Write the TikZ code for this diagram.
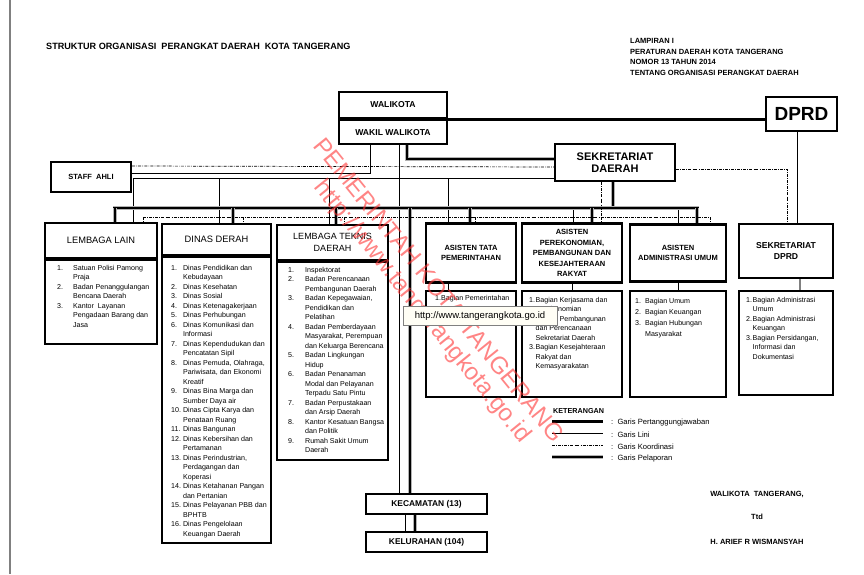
\documentclass[tikz,border=0pt]{standalone}
\usepackage{fontspec}
\setmainfont{Liberation Sans}
\usetikzlibrary{positioning}

\tikzset{
  box/.style={draw, fill=white, line width=2.2pt, align=center, inner sep=1pt,
    font=\fontsize{7.5}{10.5}\selectfont\bfseries},
  judul/.style={inner sep=0pt, font=\fontsize{7.5}{10.7}\selectfont\bfseries, align=left},
  daftar/.style={anchor=north west, inner sep=0pt, align=left, font=\fontsize{7.1}{9.5}\selectfont},
  lini/.style={line width=0.7pt},
  koord/.style={line width=0.7pt, dash pattern=on 3pt off 1.2pt on 0.7pt off 1.2pt},
  tgjwb/.style={line width=3pt},
  lapor/.style={line width=2.6pt, preaction={draw, gray!60, line width=4.4pt}},
  tanda/.style={text=red!80, opacity=0.6, inner sep=0pt, font=\fontsize{24}{26}\selectfont}
}

\begin{document}
\begin{tikzpicture}[x=1pt,y=-1pt]
\useasboundingbox (0,0) rectangle (864,574);
\draw[gray, line width=2pt] (10,0) -- (10,574);

% judul
\node[judul, font=\fontsize{9.1}{10}\selectfont\bfseries, anchor=west] (judul) at (46,46)
  {STRUKTUR ORGANISASI\ \ PERANGKAT DAERAH\ \ KOTA TANGERANG};
\node[judul, anchor=north west] (lampiran) at (630,38)
  {LAMPIRAN I\\PERATURAN DAERAH KOTA TANGERANG\\NOMOR 13 TAHUN 2014\\TENTANG ORGANISASI PERANGKAT DAERAH};

% kotak pimpinan
\node[box, font=\fontsize{8.6}{10}\selectfont\bfseries, minimum width=108pt, minimum height=26pt] (wali) at (393,105) {WALIKOTA};
\node[box, font=\fontsize{8.6}{10}\selectfont\bfseries, minimum width=108pt, minimum height=24pt, anchor=north] (wakil) at (wali.south) {WAKIL WALIKOTA};
\node[box, line width=2.6pt, minimum width=71pt, minimum height=34pt,
  font=\fontsize{19}{20}\selectfont\bfseries] (dprd) at (801.5,114) {DPRD};
\node[box, minimum width=120pt, minimum height=37pt,
  font=\fontsize{11}{12}\selectfont\bfseries] (sekda) at (615,162.5) {SEKRETARIAT\\DAERAH};
\node[box, minimum width=80pt, minimum height=30pt]
  (staff) at (91,177) {STAFF\ \ AHLI};

% garis
\draw[tgjwb] (wali.south east) -- (dprd.west |- wali.south east);
\draw[lapor] ([xshift=14pt]wakil.south) |- ([yshift=3.5pt]sekda.west);
\draw[lini] ([xshift=-23pt]wakil.south) |- ([yshift=4pt]staff.east);
\draw[koord] ([yshift=11pt]staff.east) -- ([yshift=-4.5pt]sekda.west);
\draw[koord] ([yshift=-6.5pt]sekda.east) -| (787,224);
\draw[lini] ([xshift=-4.5pt]dprd.south) -- (797,224);

\draw[lini] (133,178) -- (sekda.west |- 0,178);
\draw[lini] ([xshift=6pt]wakil.south) -- (399,494);
\foreach \x in {133,219,329,448}
  \draw[lini] (\x,178) -- (\x,225);
\foreach \x in {573,678}
  \draw[lini] (\x,208) -- (\x,225);

\draw[lapor] ([xshift=-2pt]sekda.south) -- (613,208);
\draw[lapor] (113,208) -- (699,208);
\foreach \x in {115,233,336,470,592,697}
  \draw[lapor] (\x,208) -- (\x,225);
\draw[lapor] (410,208) -- (410,494);

\draw[koord] ([xshift=-14pt]sekda.south) -- (601,217);
\draw[koord] (143,217) -- (710,217);
\foreach \x in {143,243,344,475,601,710}
  \draw[koord] (\x,217) -- (\x,224);

% kotak unit
\node[box, font=\fontsize{9.3}{10}\selectfont, minimum width=112pt, minimum height=35pt] (lainH) at (101,240.5) {LEMBAGA LAIN};
\node[box, minimum width=112pt, minimum height=84pt, anchor=north] (lainL) at (lainH.south) {};
\node[box, font=\fontsize{9.3}{10}\selectfont, minimum width=109pt, minimum height=31pt] (dinasH) at (216.5,239.5) {DINAS DERAH};
\node[box, minimum width=109pt, minimum height=286pt, anchor=north] (dinasL) at (dinasH.south) {};
\node[box, font=\fontsize{9}{11.7}\selectfont, minimum width=111pt, minimum height=35pt] (teknisH) at (332.5,242.5) {LEMBAGA TEKNIS\\DAERAH};
\node[box, minimum width=111pt, minimum height=198pt, anchor=north] (teknisL) at (teknisH.south) {};

\node[box, minimum width=90pt, minimum height=59pt] (tataH) at (471,253) {ASISTEN TATA\\PEMERINTAHAN};
\node[box, minimum width=90pt, minimum height=106pt] (tataL) at (471,344) {};
\node[box, minimum width=100pt, minimum height=59pt] (ekoH) at (572,253) {ASISTEN\\PEREKONOMIAN,\\PEMBANGUNAN DAN\\KESEJAHTERAAN\\RAKYAT};
\node[box, minimum width=100pt, minimum height=106pt] (ekoL) at (572,344) {};
\node[box, minimum width=96pt, minimum height=57pt] (adminH) at (678,253) {ASISTEN\\ADMINISTRASI UMUM};
\node[box, minimum width=96pt, minimum height=106pt] (adminL) at (678,344) {};
\node[box, font=\fontsize{8.6}{11}\selectfont\bfseries, minimum width=94pt, minimum height=54pt] (dprdsH) at (786,251) {SEKRETARIAT\\DPRD};
\node[box, minimum width=94pt, minimum height=104pt] (dprdsL) at (786,343) {};

\draw[lini] ([xshift=-23pt]tataH.south) -- ([xshift=-23pt]tataL.north);
\draw[lini] (ekoH) -- (ekoL);
\draw[lini] (adminH) -- (adminL);
\draw[lini, gray, line width=1.5pt] ([xshift=14pt]dprdsH.south) -- ([xshift=14pt]dprdsL.north);

\node[box, font=\fontsize{8.4}{10}\selectfont\bfseries, minimum width=121pt, minimum height=20pt] (kec) at (426.5,504) {KECAMATAN (13)};
\node[box, font=\fontsize{8.4}{10}\selectfont\bfseries, minimum width=121pt, minimum height=20pt] (kel) at (426.5,542) {KELURAHAN (104)};
\draw[lini] ([xshift=-21.5pt]kec.south) -- ([xshift=-21.5pt]kel.north);
\draw[lapor] ([xshift=-11.5pt]kec.south) -- ([xshift=-11.5pt]kel.north);

% isi daftar
\node[daftar] (lainT) at (57,263.5) {\begin{tabular}{@{}l@{\hspace{10pt}}l@{}}
1. & Satuan Polisi Pamong\\ & Praja\\
2. & Badan Penanggulangan\\ & Bencana Daerah\\
3. & Kantor\ \ Layanan\\ & Pengadaan Barang dan\\ & Jasa\end{tabular}};
\node[daftar] (dinasT) at (171,263.5) {\begin{tabular}{@{}l@{\hspace{2pt}}l@{}}
1. & Dinas Pendidikan dan\\ & Kebudayaan\\
2. & Dinas Kesehatan\\
3. & Dinas Sosial\\
4. & Dinas Ketenagakerjaan\\
5. & Dinas Perhubungan\\
6. & Dinas Komunikasi dan\\ & Informasi\\
7. & Dinas Kependudukan dan\\ & Pencatatan Sipil\\
8. & Dinas Pemuda, Olahraga,\\ & Pariwisata, dan Ekonomi\\ & Kreatif\\
9. & Dinas Bina Marga dan\\ & Sumber Daya air\\
10. & Dinas Cipta Karya dan\\ & Penataan Ruang\\
11. & Dinas Bangunan\\
12. & Dinas Kebersihan dan\\ & Pertamanan\\
13. & Dinas Perindustrian,\\ & Perdagangan dan\\ & Koperasi\\
14. & Dinas Ketahanan Pangan\\ & dan Pertanian\\
15. & Dinas Pelayanan PBB dan\\ & BPHTB\\
16. & Dinas Pengelolaan\\ & Keuangan Daerah\end{tabular}};
\node[daftar] (teknisT) at (288,265.5) {\begin{tabular}{@{}l@{\hspace{11pt}}l@{}}
1. & Inspektorat\\
2. & Badan Perencanaan\\ & Pembangunan Daerah\\
3. & Badan Kepegawaian,\\ & Pendidikan dan\\ & Pelatihan\\
4. & Badan Pemberdayaan\\ & Masyarakat, Perempuan\\ & dan Keluarga Berencana\\
5. & Badan Lingkungan\\ & Hidup\\
6. & Badan Penanaman\\ & Modal dan Pelayanan\\ & Terpadu Satu Pintu\\
7. & Badan Perpustakaan\\ & dan Arsip Daerah\\
8. & Kantor Kesatuan Bangsa\\ & dan Politik\\
9. & Rumah Sakit Umum\\ & Daerah\end{tabular}};
\node[daftar] (tataT) at (435,295.5) {1.Bagian Pemerintahan};
\node[daftar] (ekoT) at (529,295.5) {\begin{tabular}{@{}l@{\hspace{0.5pt}}l@{}}
1. & Bagian Kerjasama dan\\ & Perekonomian\\
2. & Bagian Pembangunan\\ & dan Perencanaan\\ & Sekretariat Daerah\\
3. & Bagian Kesejahteraan\\ & Rakyat dan\\ & Kemasyarakatan\end{tabular}};
\node[daftar, font=\fontsize{7.1}{11}\selectfont] (adminT) at (635,295.5) {\begin{tabular}{@{}l@{\hspace{4pt}}l@{}}
1. & Bagian Umum\\
2. & Bagian Keuangan\\
3. & Bagian Hubungan\\ & Masyarakat\end{tabular}};
\node[daftar] (dprdsT) at (746,295.5) {\begin{tabular}{@{}l@{\hspace{0.5pt}}l@{}}
1. & Bagian Administrasi\\ & Umum\\
2. & Bagian Administrasi\\ & Keuangan\\
3. & Bagian Persidangan,\\ & Informasi dan\\ & Dokumentasi\end{tabular}};

% keterangan
\node[judul, font=\fontsize{7.2}{8}\selectfont\bfseries, anchor=west] (ket) at (553,411) {KETERANGAN};
\node[judul, font=\fontsize{7.6}{8}\selectfont, anchor=west] (k1) at (611,423) {:\ \ Garis Pertanggungjawaban};
\node[judul, font=\fontsize{7.6}{8}\selectfont, anchor=west] (k2) at (611,435) {:\ \ Garis Lini};
\node[judul, font=\fontsize{7.6}{8}\selectfont, anchor=west] (k3) at (611,447) {:\ \ Garis Koordinasi};
\node[judul, font=\fontsize{7.6}{8}\selectfont, anchor=west] (k4) at (611,459) {:\ \ Garis Pelaporan};
\draw[tgjwb] ([xshift=-59pt,yshift=2pt]k1.west) -- ([xshift=-8pt,yshift=2pt]k1.west);
\draw[lini] ([xshift=-59pt,yshift=2pt]k2.west) -- ([xshift=-8pt,yshift=2pt]k2.west);
\draw[koord] ([xshift=-59pt,yshift=2pt]k3.west) -- ([xshift=-8pt,yshift=2pt]k3.west);
\draw[lapor] ([xshift=-59pt,yshift=2pt]k4.west) -- ([xshift=-8pt,yshift=2pt]k4.west);

% tanda tangan
\node[judul] (ttd1) at (757,494) {WALIKOTA\ \ TANGERANG,};
\node[judul] (ttd2) at (757,517) {Ttd};
\node[judul] (ttd3) at (757,542) {H. ARIEF R WISMANSYAH};

% watermark
\node[tanda, rotate=-51] (wm1) at (439,290) {PEMERINTAH KOTA TANGERANG};
\node[tanda, rotate=-51] (wm2) at (422,312) {http://www.tangerangkota.go.id};
\node[draw=gray, fill=yellow!4, inner sep=2pt, minimum width=154pt, minimum height=19pt,
  font=\fontsize{9.5}{11}\selectfont] (tip) at (480,316) {http://www.tangerangkota.go.id};
\end{tikzpicture}
\end{document}
